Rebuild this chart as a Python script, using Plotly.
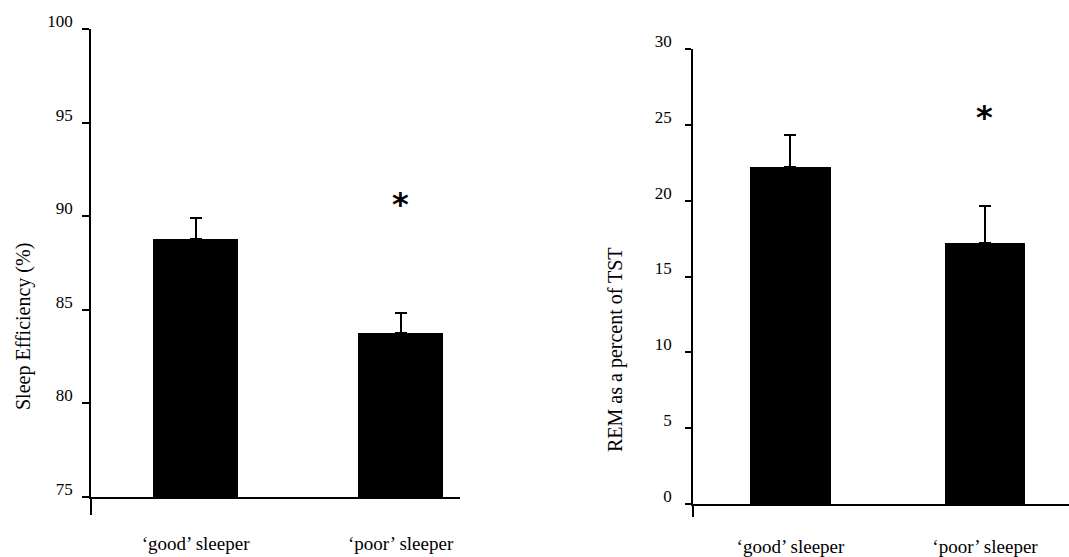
import plotly.graph_objects as go

# ---- data ----
categories = ["\u2018good\u2019 sleeper", "\u2018poor\u2019 sleeper"]
efficiency = [88.78, 83.76]
efficiency_err = [1.12, 1.07]
rem_percent = [22.2, 17.2]
rem_err = [2.1, 2.45]
efficiency_star = [90.87]
rem_star = [25.77]
eff_ticks = [75, 80, 85, 90, 95, 100]
rem_ticks = [0, 5, 10, 15, 20, 25, 30]
xpos = [0, 1]

FONT = "Liberation Serif"
W, H = 1069, 557

fig = go.Figure()

fig.add_trace(go.Bar(
    x=xpos, y=efficiency, width=0.415, marker=dict(color="black", line=dict(width=0)),
    error_y=dict(type="data", array=efficiency_err, arrayminus=[0, 0], symmetric=False,
                 color="black", thickness=2, width=6),
    xaxis="x", yaxis="y", showlegend=False))

fig.add_trace(go.Bar(
    x=xpos, y=rem_percent, width=0.415, marker=dict(color="black", line=dict(width=0)),
    error_y=dict(type="data", array=rem_err, arrayminus=[0, 0], symmetric=False,
                 color="black", thickness=2, width=6),
    xaxis="x2", yaxis="y2", showlegend=False))

axis_common = dict(showgrid=False, zeroline=False, showline=True, linecolor="black",
                   linewidth=1.5, tickcolor="black", tickwidth=1.5, automargin=False)
ytickfont = dict(family=FONT, size=17, color="black")
xtickfont = dict(family=FONT, size=19, color="black")

fig.update_layout(
    width=W, height=H, margin=dict(l=0, r=0, t=0, b=0, autoexpand=False),
    paper_bgcolor="white", plot_bgcolor="white", bargap=0,
    font=dict(family=FONT, color="black"),
    xaxis=dict(domain=[91 / W, 460 / W], range=[-0.51, 1.29], anchor="y",
               tickvals=xpos, ticktext=categories, ticks="", ticklabelstandoff=28,
               tickfont=xtickfont,
               minor=dict(tickvals=[-0.51], ticks="outside", ticklen=16,
                          tickcolor="black", tickwidth=1.5),
               **axis_common),
    yaxis=dict(domain=[1 - 497 / H, 1 - 29 / H], range=[75, 100], anchor="x",
               tickvals=eff_ticks, ticks="outside", ticklen=7, ticklabelstandoff=6,
               ticklabelshift=-8, tickfont=ytickfont, **axis_common),
    xaxis2=dict(domain=[693 / W, 1.0], range=[-0.501, 1.432], anchor="y2",
                tickvals=xpos, ticktext=categories, ticks="", ticklabelstandoff=24,
                tickfont=xtickfont,
                minor=dict(tickvals=[-0.501], ticks="outside", ticklen=11,
                           tickcolor="black", tickwidth=1.5),
                **axis_common),
    yaxis2=dict(domain=[1 - 504 / H, 1 - 49 / H], range=[0, 30], anchor="x2",
                tickvals=rem_ticks, ticks="outside", ticklen=6, ticklabelstandoff=10,
                ticklabelshift=-8, tickfont=ytickfont, **axis_common),
)

star_font = dict(family="DejaVu Sans", size=32, color="black", weight="bold")
fig.add_annotation(x=1, y=efficiency_star[0], xref="x", yref="y", text="*",
                   showarrow=False, yshift=-4, font=star_font)
fig.add_annotation(x=1, y=rem_star[0], xref="x2", yref="y2", text="*",
                   showarrow=False, yshift=-4, font=star_font)

fig.add_annotation(x=23 / W, y=1 - 327 / H, xref="paper", yref="paper",
                   xanchor="center", yanchor="middle",
                   text="Sleep Efficiency (%)", textangle=-90, showarrow=False,
                   font=dict(family=FONT, size=20, color="black"))
fig.add_annotation(x=615 / W, y=1 - 350 / H, xref="paper", yref="paper",
                   xanchor="center", yanchor="middle",
                   text="REM as a percent of TST", textangle=-90, showarrow=False,
                   font=dict(family=FONT, size=20, color="black"))

fig.write_html("out.html", config={"displayModeBar": False},
               post_script="document.body.style.margin='0';")
